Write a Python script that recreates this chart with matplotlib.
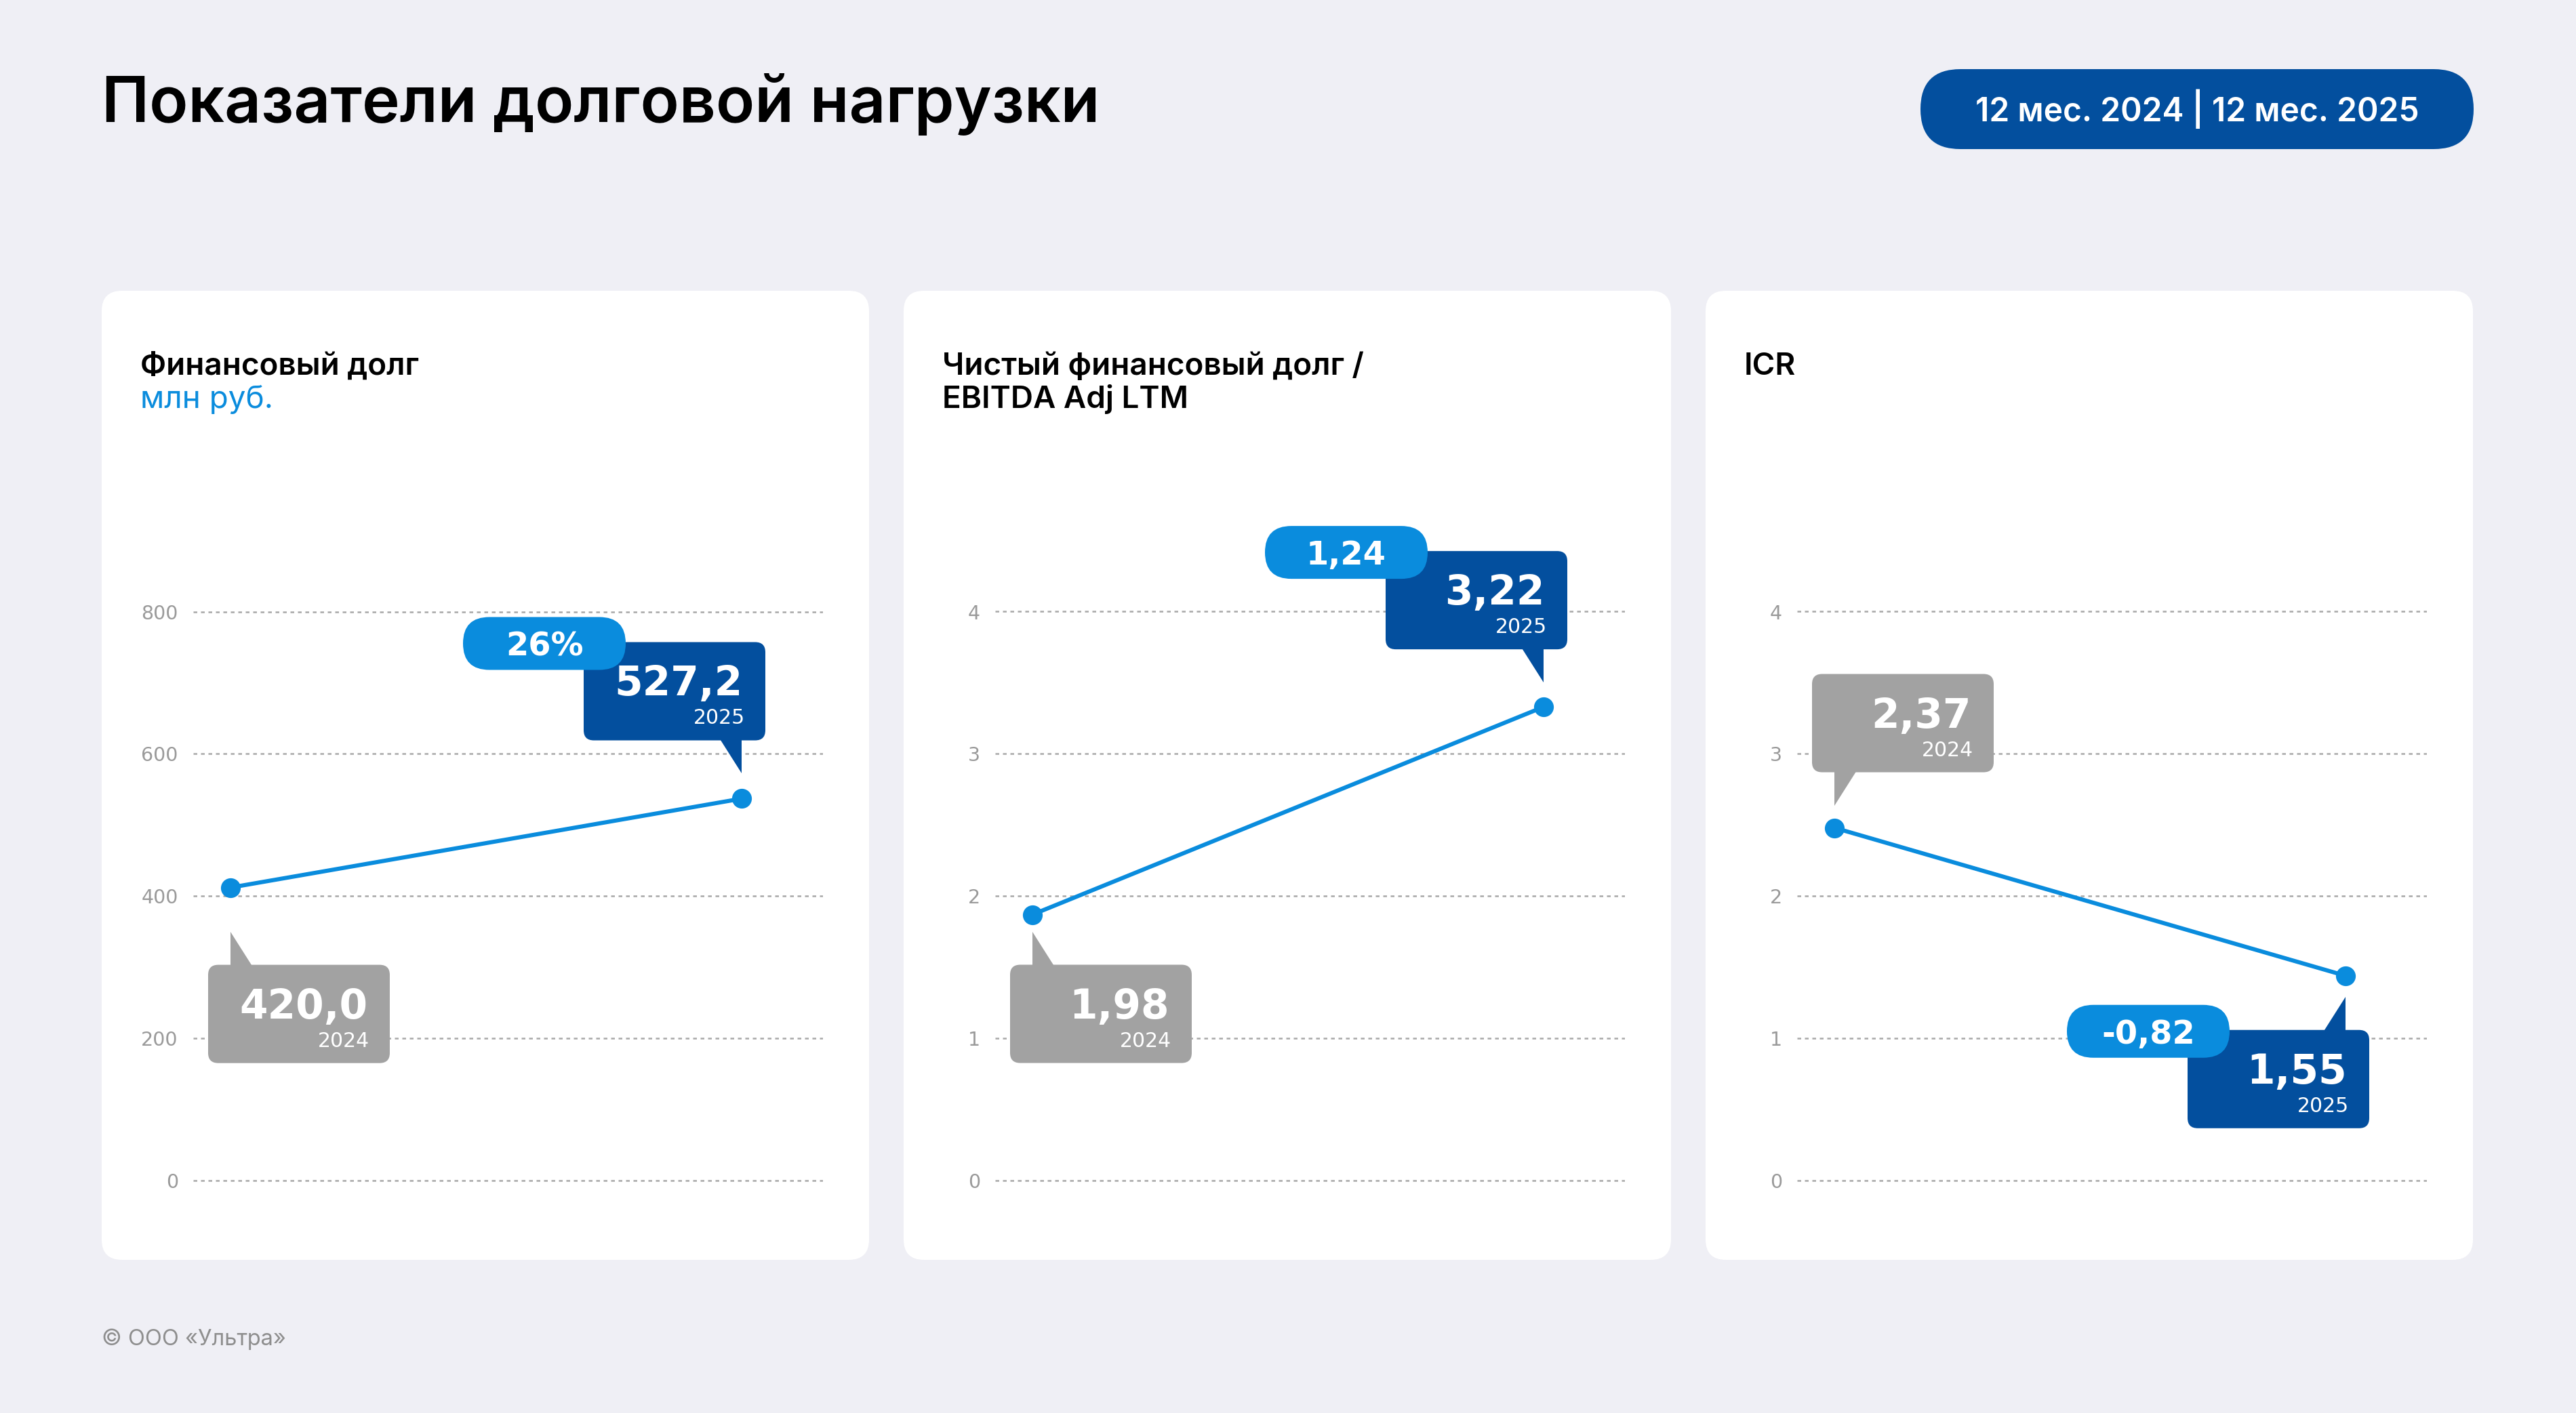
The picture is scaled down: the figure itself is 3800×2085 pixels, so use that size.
import matplotlib
matplotlib.use('Agg')
import matplotlib.pyplot as plt
from matplotlib.patches import FancyBboxPatch, Polygon
from matplotlib.transforms import Affine2D

# ---------------- data ----------------
main_title = 'Показатели долговой нагрузки'
period_label = '12 мес. 2024 | 12 мес. 2025'
copyright_text = '© ООО «Ультра»'

panel_titles = [['Финансовый долг'],
                ['Чистый финансовый долг /', 'EBITDA Adj LTM'],
                ['ICR']]
panel_units = ['млн руб.', '', '']
years = ['2024', '2025']
# plotted point positions
debt_points = [412, 537]
netdebt_ebitda_points = [1.87, 3.33]
icr_points = [2.48, 1.44]
# printed labels
debt_labels = ['420,0', '527,2']
netdebt_ebitda_labels = ['1,98', '3,22']
icr_labels = ['2,37', '1,55']
change_labels = ['26%', '1,24', '-0,82']
debt_ticks = [0, 200, 400, 600, 800]
ratio_ticks = [0, 1, 2, 3, 4]

series_points = [debt_points, netdebt_ebitda_points, icr_points]
series_labels = [debt_labels, netdebt_ebitda_labels, icr_labels]
series_ticks = [debt_ticks, ratio_ticks, ratio_ticks]

# ---------------- style / layout ----------------
W, H = 3800, 2085
BG = '#EFEFF5'
DARK = '#034F9E'
LIGHT = '#0A8CDD'
GRAY = '#A2A2A2'
TICK_C = '#9A9A9A'
GRID_C = '#A8A8A8'

panel_lefts = [150, 1333, 2516]
PANEL_W, PANEL_TOP, PANEL_BOT = 1132, 429, 1859
AX_L, AX_R = 135, 1064          # offsets inside a panel
AX_TOP, AX_BOT = 902.5, 1742    # pixel rows of top / bottom gridline
AX_PAD = 10                     # extra pixels so edge gridlines are not clipped
XLIM = (-55 / 754, 1 + 120 / 754)

# callout placement: (side of box vs point, gap from point to tail apex)
gray_side = ['below', 'below', 'above']
gray_gap = [65, 25, 33]
dark_side = ['above', 'above', 'below']
dark_gap = [37, 36, 31]

BW, BH, TL, TB = 268, 145, 49, 33

fig = plt.figure(figsize=(W / 100, H / 100), dpi=100, facecolor=BG)
T = Affine2D().scale(1 / W, -1 / H).translate(0, 1) + fig.transFigure


def rbox(x0, y0, w, h, r, color, z):
    p = FancyBboxPatch((x0, y0), w, h,
                       boxstyle=f'round,pad=0,rounding_size={r}',
                       transform=T, fc=color, ec='none', zorder=z)
    fig.add_artist(p)


def tri(pts, color, z):
    p = Polygon(pts, closed=True, transform=T, fc=color, ec='none', zorder=z)
    fig.add_artist(p)


def txt(x, y, s, **kw):
    fig.text(x, y, s, transform=T, **kw)


def callout(px, py, side, tail_side, gap, color, value, year, z):
    if side == 'below':
        apex = py + gap
        top = apex + TL
        edge = top + 3
    else:
        apex = py - gap
        top = apex - TL - BH
        edge = top + BH - 3
    if tail_side == 'left':
        bx = px - 33
        pts = [(px, apex), (px, edge), (px + TB, edge)]
    else:
        bx = px + 35 - BW
        pts = [(px, apex), (px, edge), (px - TB, edge)]
    rbox(bx, top, BW, BH, 15, color, z)
    tri(pts, color, z)
    txt(bx + BW - 33, top + 79, value, ha='right', va='baseline',
        color='white', fontsize=43, fontweight='bold',
        family='DejaVu Sans', zorder=z + 0.1)
    txt(bx + BW - 30, top + 121, year, ha='right', va='baseline',
        color='white', fontsize=21.5, family='DejaVu Sans', zorder=z + 0.1)
    return bx, top


# ---------------- header / footer ----------------
txt(150, 180, main_title, ha='left', va='baseline', fontsize=67.8,
    family='Inter', fontweight='semibold', color='black')
rbox(2833, 102, 816, 118, 59, DARK, 2)
txt(3241, 179, period_label, ha='center', va='baseline', fontsize=34.5,
    family='Inter', fontweight='semibold', color='white', zorder=3)
txt(150, 1985, copyright_text, ha='left', va='baseline', fontsize=23.5,
    family='Inter', color='#8E8E8E')

# ---------------- panels ----------------
for i, pl in enumerate(panel_lefts):
    rbox(pl, PANEL_TOP, PANEL_W, PANEL_BOT - PANEL_TOP, 30, 'white', -5)
    # titles
    for j, line in enumerate(panel_titles[i]):
        txt(pl + 57, 553 + 49 * j, line, ha='left', va='baseline',
            fontsize=33, family='Inter', fontweight='semibold', color='black')
    if panel_units[i]:
        txt(pl + 57, 602, panel_units[i], ha='left', va='baseline',
            fontsize=33, family='Inter', color=LIGHT)

    ax = fig.add_axes([(pl + AX_L) / W, (H - AX_BOT - AX_PAD) / H,
                       (AX_R - AX_L) / W, (AX_BOT - AX_TOP + 2 * AX_PAD) / H])
    ax.patch.set_visible(False)
    ticks = series_ticks[i]
    per_px = (ticks[-1] - ticks[0]) / (AX_BOT - AX_TOP)
    ax.set_ylim(ticks[0] - AX_PAD * per_px, ticks[-1] + AX_PAD * per_px)
    ax.set_xlim(*XLIM)
    ax.set_yticks(ticks)
    ax.set_yticklabels([str(t) for t in ticks], fontsize=20.5,
                       family='DejaVu Sans', color=TICK_C)
    ax.set_xticks([])
    ax.tick_params(axis='y', length=0, pad=16)
    for s in ax.spines.values():
        s.set_visible(False)
    ax.yaxis.grid(True, color=GRID_C, lw=1.8, ls=(0, (2.2, 2.2)))
    ax.set_axisbelow(True)
    pts = series_points[i]
    ax.plot([0, 1], pts, color=LIGHT, lw=4.4, marker='o', ms=20,
            mfc=LIGHT, mec=LIGHT, clip_on=False, solid_capstyle='round',
            zorder=3)

    # pixel positions of the points (image coords, y down)
    disp = ax.transData.transform([[0, pts[0]], [1, pts[1]]])
    p0 = (disp[0][0], H - disp[0][1])
    p1 = (disp[1][0], H - disp[1][1])

    callout(p0[0], p0[1], gray_side[i], 'left', gray_gap[i], GRAY,
            series_labels[i][0], years[0], 5)
    bx, top = callout(p1[0], p1[1], dark_side[i], 'right', dark_gap[i], DARK,
                      series_labels[i][1], years[1], 6)
    # change pill
    pl_x, pl_y = bx - 178, top - 37
    rbox(pl_x, pl_y, 240, 78, 39, LIGHT, 7)
    txt(pl_x + 120, pl_y + 57, change_labels[i], ha='center', va='baseline',
        color='white', fontsize=34.5, fontweight='bold',
        family='DejaVu Sans', zorder=7.1)

fig.savefig('out.png', dpi=100, facecolor=BG)
